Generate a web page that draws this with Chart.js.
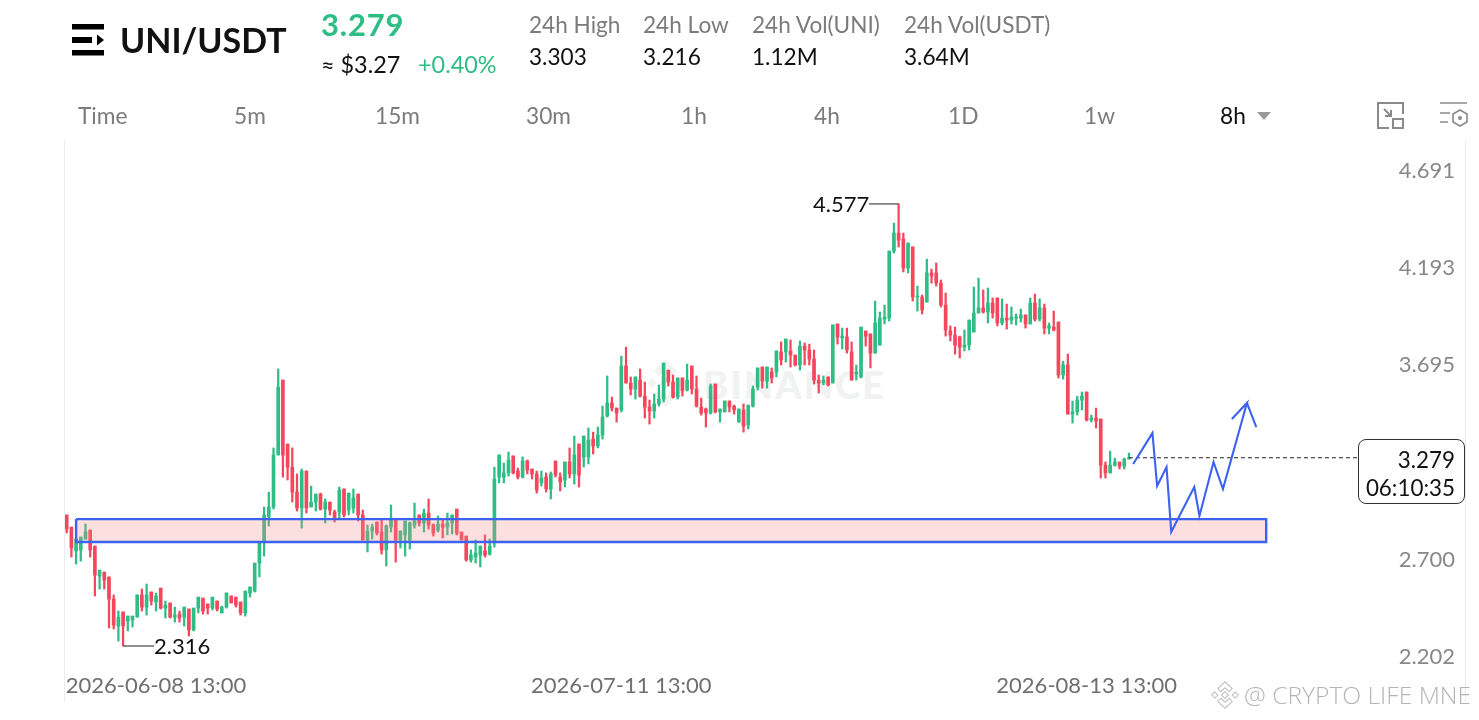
<!DOCTYPE html>
<html>
<head>
<meta charset="utf-8">
<title>UNI/USDT</title>
<script src="https://cdn.jsdelivr.net/npm/chart.js@4/dist/chart.umd.min.js"></script>
<style>
  html, body { margin: 0; padding: 0; background: #fff; }
  body { width: 1479px; height: 720px; position: relative; overflow: hidden; font-family: Lato, sans-serif; color: #111; }
  .t { position: absolute; white-space: nowrap; line-height: 1; transform: translateY(-50%); }
  .grey { color: #7b7b7b; }
  .green { color: #2ebd85; }
  .tab { font-size: 22.7px; color: #7b7b7b; top: 116px; }
  .stat { font-size: 22.6px; }
  #mark { position: absolute; left: 703px; top: 362px; font-size: 38px; font-weight: 900; letter-spacing: 2px; color: #f1f2f2; line-height: 44px; }
  #chart { position: absolute; left: 0; top: 0; }
  .edge { position: absolute; top: 140px; height: 562px; width: 1px; background: #ececec; }
  #box { position: absolute; left: 1358px; top: 439px; width: 105px; height: 63px; border: 1px solid #333; border-radius: 8px; background: rgba(255,255,255,0.88); }
  #box div { position: absolute; right: 9px; font-size: 22.4px; line-height: 1; color: #111; }
  #credit { left: 1244px; top: 695px; font-family: "Open Sans", sans-serif; font-weight: 300; font-size: 24.6px; color: #b5b5b5; }
</style>
</head>
<body>
<div class="edge" style="left:64px"></div>
<div class="edge" style="left:1465px"></div>

<svg style="position:absolute;left:647px;top:359px" width="37" height="48" viewBox="0 0 37 48" fill="#f1f2f2">
  <path d="M18.5 0 L30 12 L25 17 L18.5 10 L12 17 L7 12 Z M18.5 48 L30 36 L25 31 L18.5 38 L12 31 L7 36 Z M0 24 L5 19 L10 24 L5 29 Z M27 24 L32 19 L37 24 L32 29 Z M18.5 18 L24 24 L18.5 30 L13 24 Z"/>
</svg>
<div id="mark">BINANCE</div>

<canvas id="chart" width="1479" height="720"></canvas>

<!-- header -->
<svg style="position:absolute;left:72px;top:24px" width="33" height="32" viewBox="0 0 33 32" fill="#000">
  <rect x="0" y="0" width="32" height="5.5"/>
  <rect x="0" y="13" width="20" height="6"/>
  <path d="M25 10.5 L32 16 L25 21.5 Z"/>
  <rect x="0" y="26" width="32" height="5.5"/>
</svg>
<div class="t" style="left:120px;top:40px;font-size:34px;font-weight:700">UNI/USDT</div>
<div class="t green" style="left:321px;top:24px;font-size:31px;font-weight:700;letter-spacing:0.8px">3.279</div>
<div class="t" style="left:321px;top:65px;font-size:23.4px">≈ $3.27</div>
<div class="t green" style="left:418px;top:65px;font-size:23.4px">+0.40%</div>

<div class="t grey stat" style="left:529px;top:25px">24h High</div>
<div class="t stat" style="left:529px;top:57px">3.303</div>
<div class="t grey stat" style="left:643px;top:25px">24h Low</div>
<div class="t stat" style="left:643px;top:57px">3.216</div>
<div class="t grey stat" style="left:752px;top:25px">24h Vol(UNI)</div>
<div class="t stat" style="left:752px;top:57px">1.12M</div>
<div class="t grey stat" style="left:904px;top:25px">24h Vol(USDT)</div>
<div class="t stat" style="left:904px;top:57px">3.64M</div>

<div class="t tab" style="left:78px">Time</div>
<div class="t tab" style="left:234px">5m</div>
<div class="t tab" style="left:375px">15m</div>
<div class="t tab" style="left:526px">30m</div>
<div class="t tab" style="left:681px">1h</div>
<div class="t tab" style="left:814px">4h</div>
<div class="t tab" style="left:948px">1D</div>
<div class="t tab" style="left:1084px">1w</div>
<div class="t tab" style="left:1220px;color:#111">8h</div>
<svg style="position:absolute;left:1257px;top:112px" width="14" height="8"><path d="M0 0 H14 L7 8 Z" fill="#999"/></svg>
<svg style="position:absolute;left:1376px;top:101px" width="29" height="29" viewBox="0 0 29 29" fill="none" stroke="#8a8a8a" stroke-width="2">
  <path d="M13 27 H2 V2 H27 V13"/>
  <rect x="17" y="18" width="10" height="9"/>
  <path d="M8 8 L15 15 M15 9 V15 H9"/>
</svg>
<svg style="position:absolute;left:1439px;top:102px" width="30" height="27" viewBox="0 0 30 27" fill="none" stroke="#8a8a8a" stroke-width="1.6">
  <path d="M1 1 H28 M1 11 H11 M1 20 H9"/>
  <path d="M21 8 L28 12 V20 L21 24 L14 20 V12 Z"/>
  <circle cx="21" cy="16" r="2" fill="#8a8a8a" stroke="none"/>
</svg>

<!-- extreme labels and live price -->
<div class="t" style="left:813px;top:204px;font-size:22px">4.577</div>
<div class="t" style="left:154px;top:646px;font-size:22px">2.316</div>
<div id="box">
  <div style="top:9px">3.279</div>
  <div style="top:37px">06:10:35</div>
</div>

<div class="t" id="credit">@ CRYPTO LIFE MNE</div>
<svg style="position:absolute;left:1211px;top:681px" width="28" height="28" viewBox="0 0 37 37" fill="none" stroke="#c4c4c4" stroke-width="1.5">
  <path d="M18.5 1 L28 10 L24 14 L18.5 9 L13 14 L9 10 Z M18.5 36 L28 27 L24 23 L18.5 28 L13 23 L9 27 Z M1 18.5 L5 14.5 L9 18.5 L5 22.5 Z M28 18.5 L32 14.5 L36 18.5 L32 22.5 Z M18.5 14 L23 18.5 L18.5 23 L14 18.5 Z"/>
</svg>

<script>
// 8h candles, 2026-06-05 onward
const opens = [
  2.986,2.924,2.802,2.807,2.863,2.909,2.827,2.674,2.694,2.669,
  2.556,2.418,2.490,2.444,2.449,2.464,2.577,2.515,2.592,2.541,
  2.612,2.510,2.536,2.464,2.479,2.464,2.505,2.398,2.510,2.561,
  2.531,2.510,2.546,2.485,2.515,2.572,2.566,2.541,2.485,2.587,
  2.597,2.740,2.848,2.976,3.027,3.293,3.676,3.349,3.231,3.103,
  3.022,3.211,3.027,3.052,3.093,3.016,3.052,3.001,3.001,3.119,
  3.011,3.022,3.093,2.986,2.858,2.904,2.950,2.899,2.807,2.924,
  2.965,2.858,2.884,2.858,2.935,2.986,2.945,2.996,2.935,2.909,
  2.940,2.924,2.945,3.016,2.899,2.878,2.756,2.771,2.781,2.802,
  2.786,2.843,3.180,3.180,3.201,3.288,3.211,3.180,3.262,3.221,
  3.196,3.150,3.180,3.119,3.262,3.180,3.165,3.257,3.196,3.349,
  3.283,3.283,3.374,3.339,3.395,3.492,3.559,3.533,3.523,3.748,
  3.661,3.630,3.676,3.594,3.538,3.518,3.554,3.579,3.727,3.666,
  3.589,3.687,3.625,3.748,3.630,3.538,3.528,3.508,3.656,3.513,
  3.513,3.569,3.543,3.461,3.523,3.446,3.543,3.640,3.743,3.671,
  3.717,3.717,3.820,3.820,3.825,3.804,3.753,3.850,3.830,3.784,
  3.676,3.661,3.692,3.661,3.963,3.891,3.896,3.820,3.707,3.692,
  3.927,3.912,3.814,3.855,3.988,3.993,4.336,4.428,4.398,4.249,
  4.357,4.101,4.101,4.075,4.224,4.224,4.172,4.060,3.927,3.906,
  3.896,3.845,3.855,3.922,4.019,4.045,4.024,4.070,4.096,3.968,
  3.993,3.983,3.993,3.993,4.009,3.963,4.070,3.988,4.045,3.942,
  3.947,3.973,3.702,3.753,3.502,3.513,3.574,3.615,3.472,3.482,
  3.477,3.241,3.201,3.241,3.257,3.236,3.272
];
const highs = [
  2.986,2.924,2.863,2.873,2.940,2.909,2.827,2.704,2.694,2.669,
  2.577,2.495,2.490,2.469,2.469,2.577,2.607,2.633,2.592,2.587,
  2.612,2.546,2.536,2.515,2.495,2.515,2.505,2.510,2.566,2.561,
  2.531,2.566,2.546,2.520,2.587,2.572,2.566,2.541,2.597,2.618,
  2.740,2.848,3.027,3.103,3.329,3.733,3.676,3.349,3.329,3.196,
  3.221,3.211,3.134,3.093,3.098,3.068,3.052,3.011,3.129,3.119,
  3.098,3.119,3.093,3.011,2.935,2.940,2.950,2.965,2.935,3.037,
  2.965,2.904,2.955,2.950,3.047,2.986,3.016,3.068,2.940,2.981,
  2.965,2.996,2.986,3.016,2.899,2.878,2.807,2.858,2.827,2.884,
  2.863,3.231,3.293,3.252,3.308,3.288,3.226,3.283,3.267,3.221,
  3.211,3.211,3.201,3.206,3.262,3.201,3.257,3.329,3.390,3.349,
  3.390,3.431,3.410,3.436,3.543,3.697,3.589,3.533,3.799,3.845,
  3.692,3.692,3.733,3.666,3.574,3.605,3.651,3.763,3.727,3.702,
  3.687,3.687,3.758,3.748,3.697,3.584,3.533,3.656,3.656,3.528,
  3.569,3.569,3.548,3.528,3.554,3.548,3.646,3.738,3.743,3.743,
  3.738,3.825,3.871,3.886,3.881,3.804,3.876,3.866,3.860,3.830,
  3.702,3.697,3.692,3.958,3.963,3.942,3.942,3.871,3.753,3.947,
  3.927,3.912,4.080,4.024,4.060,4.336,4.479,4.577,4.428,4.377,
  4.357,4.157,4.111,4.295,4.244,4.275,4.188,4.121,3.953,3.947,
  3.901,3.932,3.983,4.152,4.198,4.137,4.147,4.096,4.096,4.091,
  4.065,4.050,4.014,4.039,4.009,4.096,4.116,4.091,4.065,3.968,
  4.029,3.973,3.773,3.809,3.569,3.594,3.615,3.615,3.497,3.533,
  3.477,3.257,3.313,3.277,3.257,3.277,3.303
];
const lows = [
  2.894,2.771,2.735,2.750,2.863,2.771,2.572,2.607,2.607,2.408,
  2.403,2.341,2.316,2.393,2.413,2.464,2.495,2.474,2.525,2.495,
  2.505,2.459,2.459,2.438,2.438,2.418,2.367,2.393,2.485,2.479,
  2.479,2.500,2.495,2.485,2.510,2.536,2.515,2.474,2.469,2.566,
  2.592,2.669,2.776,2.930,3.016,3.293,3.180,3.165,3.052,3.006,
  2.919,2.996,3.027,3.006,3.011,2.945,2.986,2.950,2.970,2.976,
  2.986,2.996,2.955,2.858,2.797,2.863,2.884,2.786,2.725,2.899,
  2.745,2.817,2.776,2.812,2.919,2.930,2.899,2.914,2.878,2.899,
  2.868,2.884,2.889,2.884,2.858,2.750,2.745,2.740,2.720,2.771,
  2.781,2.822,3.150,3.150,3.185,3.196,3.170,3.175,3.196,3.170,
  3.098,3.134,3.103,3.068,3.180,3.109,3.129,3.175,3.144,3.129,
  3.231,3.247,3.298,3.329,3.374,3.487,3.518,3.461,3.513,3.661,
  3.600,3.579,3.589,3.482,3.451,3.482,3.543,3.564,3.646,3.584,
  3.579,3.594,3.620,3.605,3.538,3.497,3.436,3.502,3.508,3.461,
  3.513,3.513,3.502,3.461,3.410,3.426,3.538,3.625,3.635,3.635,
  3.661,3.692,3.753,3.768,3.743,3.748,3.727,3.753,3.753,3.656,
  3.610,3.651,3.646,3.661,3.860,3.835,3.814,3.676,3.676,3.687,
  3.850,3.738,3.814,3.855,3.963,3.978,4.326,4.357,4.229,4.224,
  4.080,4.029,4.014,4.075,4.172,4.157,4.050,3.901,3.876,3.809,
  3.789,3.825,3.830,3.922,4.019,4.019,3.968,3.993,3.953,3.958,
  3.937,3.963,3.958,3.973,3.942,3.963,3.978,3.978,3.912,3.912,
  3.927,3.687,3.681,3.502,3.456,3.497,3.523,3.467,3.461,3.431,
  3.175,3.175,3.201,3.236,3.221,3.221,3.272
];
const closes = [
  2.914,2.817,2.863,2.873,2.899,2.807,2.679,2.704,2.653,2.556,
  2.423,2.464,2.418,2.469,2.469,2.577,2.515,2.577,2.546,2.572,
  2.510,2.525,2.464,2.474,2.459,2.515,2.398,2.510,2.566,2.495,
  2.510,2.566,2.505,2.515,2.587,2.536,2.525,2.485,2.597,2.618,
  2.740,2.848,2.986,3.027,3.293,3.640,3.293,3.231,3.103,3.022,
  3.211,3.022,3.052,3.093,3.016,3.052,3.011,2.970,3.114,2.986,
  3.098,3.073,2.986,2.858,2.904,2.924,2.894,2.807,2.930,2.970,
  2.858,2.904,2.955,2.945,2.955,2.945,2.996,2.935,2.894,2.940,
  2.924,2.945,2.986,2.894,2.858,2.756,2.781,2.791,2.827,2.781,
  2.827,3.170,3.293,3.201,3.267,3.201,3.180,3.262,3.216,3.196,
  3.114,3.175,3.119,3.196,3.190,3.155,3.257,3.196,3.293,3.190,
  3.390,3.369,3.339,3.395,3.487,3.559,3.533,3.508,3.748,3.661,
  3.630,3.692,3.594,3.538,3.518,3.554,3.579,3.763,3.666,3.589,
  3.687,3.620,3.676,3.630,3.543,3.508,3.508,3.646,3.513,3.528,
  3.569,3.538,3.523,3.528,3.441,3.548,3.630,3.738,3.671,3.743,
  3.687,3.825,3.779,3.886,3.804,3.753,3.850,3.830,3.784,3.676,
  3.661,3.676,3.651,3.958,3.896,3.901,3.830,3.676,3.717,3.947,
  3.901,3.814,3.968,3.993,3.998,4.336,4.428,4.392,4.249,4.377,
  4.101,4.106,4.034,4.224,4.208,4.172,4.060,3.932,3.906,3.855,
  3.845,3.855,3.983,4.019,4.045,4.024,4.070,4.019,3.968,3.993,
  3.983,3.998,3.998,4.009,3.963,4.070,3.988,4.045,3.942,3.953,
  3.932,3.702,3.753,3.502,3.513,3.574,3.594,3.472,3.482,3.467,
  3.241,3.201,3.241,3.257,3.236,3.272,3.279
];

const priceTicks = [4.691, 4.193, 3.695, 3.197, 2.700, 2.202];
const dateTicks = [19, 118, 217];
const dateLabels = ['2026-06-08 13:00', '2026-07-11 13:00', '2026-08-13 13:00'];

// support zone and the drawn projection (candle index / price)
const zoneIndex = [2, 255.2, 255.2, 2, 2];
const zonePrice = [2.965, 2.965, 2.848, 2.848, 2.965];
const pathIndex = [226.9, 231, 232, 234, 235, 239.9, 241, 244, 246, 251.1, 247.9, 251.1, 253.1];
const pathPrice = [3.247, 3.405, 3.134, 3.231, 2.899, 3.129, 2.981, 3.257, 3.119, 3.559, 3.477, 3.559, 3.436];

const lastPrice = 3.279;
const lastPriceEnd = 274.7;
const highLeader = [170.7, 177];
const lowLeader = [12, 18.6];

const GREEN = '#2ebd85';
const RED = '#f6465d';
const BLUE = '#3c62ee';

const colors = opens.map((o, i) => closes[i] >= o ? GREEN : RED);
const wicks = lows.map((l, i) => ({ x: i, y: [l, highs[i]] }));
const bodies = opens.map((o, i) => ({ x: i, y: [o, closes[i]] }));
const toPoints = (xs, ys) => xs.map((x, i) => ({ x: x, y: ys[i] }));

const ctx = document.getElementById('chart').getContext('2d');
new Chart(ctx, {
  type: 'bar',
  data: {
    datasets: [
      { type: 'line', data: toPoints(pathIndex, pathPrice), borderColor: BLUE, borderWidth: 2.1, pointRadius: 0, tension: 0, order: 1 },
      { type: 'line', data: toPoints(zoneIndex, zonePrice), borderColor: BLUE, borderWidth: 2.4, backgroundColor: 'rgba(244,140,140,0.28)', fill: 'shape', pointRadius: 0, tension: 0, order: 2 },
      { type: 'line', data: toPoints([226, lastPriceEnd], [lastPrice, lastPrice]), borderColor: '#222', borderWidth: 1.1, borderDash: [4, 3], pointRadius: 0, order: 3 },
      { type: 'line', data: toPoints(highLeader, [4.577, 4.577]), borderColor: '#444', borderWidth: 1.2, pointRadius: 0, order: 3 },
      { type: 'line', data: toPoints(lowLeader, [2.316, 2.316]), borderColor: '#444', borderWidth: 1.2, pointRadius: 0, order: 3 },
      { data: bodies, backgroundColor: colors, barThickness: 3, grouped: false, order: 4 },
      { data: wicks, backgroundColor: colors, barThickness: 1.6, grouped: false, order: 5 }
    ]
  },
  options: {
    responsive: false,
    animation: false,
    layout: { padding: { left: 65, right: 14, top: 140, bottom: 20 } },
    plugins: { legend: { display: false }, tooltip: { enabled: false } },
    scales: {
      x: {
        type: 'linear',
        offset: false,
        min: -0.36,
        max: 297.5,
        grid: { display: false },
        border: { display: false },
        afterBuildTicks: (scale) => { scale.ticks = dateTicks.map(v => ({ value: v })); },
        afterFit: (scale) => { scale.height = 28; },
        ticks: {
          autoSkip: false,
          maxRotation: 0,
          padding: -7,
          color: '#6f6f6f',
          font: { family: 'Lato', size: 22 },
          callback: (v) => dateLabels[dateTicks.indexOf(v)]
        }
      },
      y: {
        position: 'right',
        min: 2.183,
        max: 4.904,
        grid: { display: false },
        border: { display: false },
        afterBuildTicks: (scale) => { scale.ticks = priceTicks.map(v => ({ value: v })); },
        ticks: {
          mirror: true,
          padding: -10,
          labelOffset: -11,
          color: '#888',
          font: { family: 'Lato', size: 22 },
          callback: (v) => v.toFixed(3)
        }
      }
    }
  }
});
</script>
</body>
</html>
